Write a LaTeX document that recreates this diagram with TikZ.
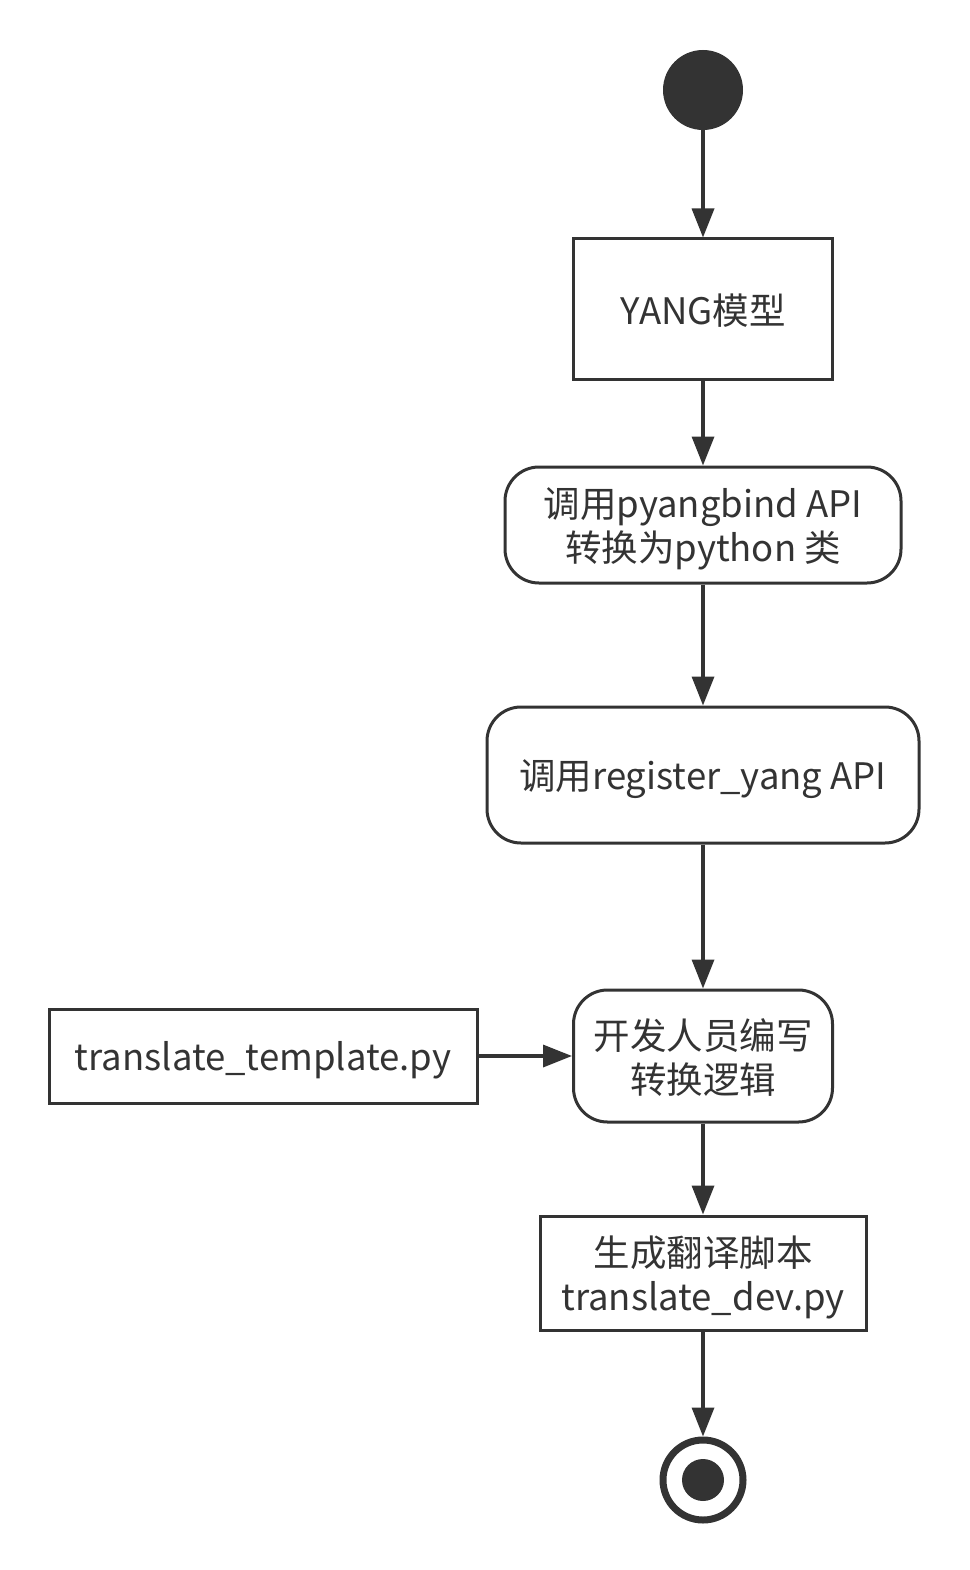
\documentclass[tikz,border=0pt]{standalone}
\usepackage{fontspec}
\setmainfont{Noto Sans CJK SC}
\usetikzlibrary{arrows.meta}
\definecolor{ink}{HTML}{333333}
\begin{document}
\begin{tikzpicture}[x=1pt,y=-1pt,
  every node/.style={font=\fontsize{36.5}{44}\selectfont, text=ink, align=center, inner sep=0pt, text depth=0pt},
  sqbox/.style={draw=ink, line width=3pt, minimum width=#1},
  rbox/.style={draw=ink, line width=3pt, rounded corners=34pt},
  flow/.style={draw=ink, line width=3.5pt, -{Triangle[length=29pt,width=22pt]}}
]
\useasboundingbox (0,0) rectangle (969,1570);
\node[circle, fill=ink, minimum size=80pt] (start) at (703,90) {};
\node[sqbox=259pt, minimum height=140pt] (yang) at (703,309) {YANG模型};
\node[rbox, minimum width=396pt, minimum height=116pt] (pyb) at (703,525) {调用pyangbind API\\转换为python 类};
\node[rbox, minimum width=432pt, minimum height=136pt] (reg) at (703,775) {调用register\_yang API};
\node[rbox, minimum width=259pt, minimum height=132pt] (dev) at (703,1056) {开发人员编写\\转换逻辑};
\node[sqbox=428pt, minimum height=94pt] (tpl) at (263,1056) {translate\_template.py};
\node[sqbox=326pt, minimum height=114pt] (gen) at (703,1273) {生成翻译脚本\\translate\_dev.py};
\node[circle, draw=ink, line width=7pt, minimum size=80pt] (end) at (703,1480) {};
\node[circle, fill=ink, minimum size=42pt] (enddot) at (703,1480) {};
\draw[flow] (start) -- (yang);
\draw[flow] (yang) -- (pyb);
\draw[flow] (pyb) -- (reg);
\draw[flow] (reg) -- (dev);
\draw[flow] (tpl) -- (dev);
\draw[flow] (dev) -- (gen);
\draw[flow] (gen) -- (end);
\end{tikzpicture}
\end{document}
